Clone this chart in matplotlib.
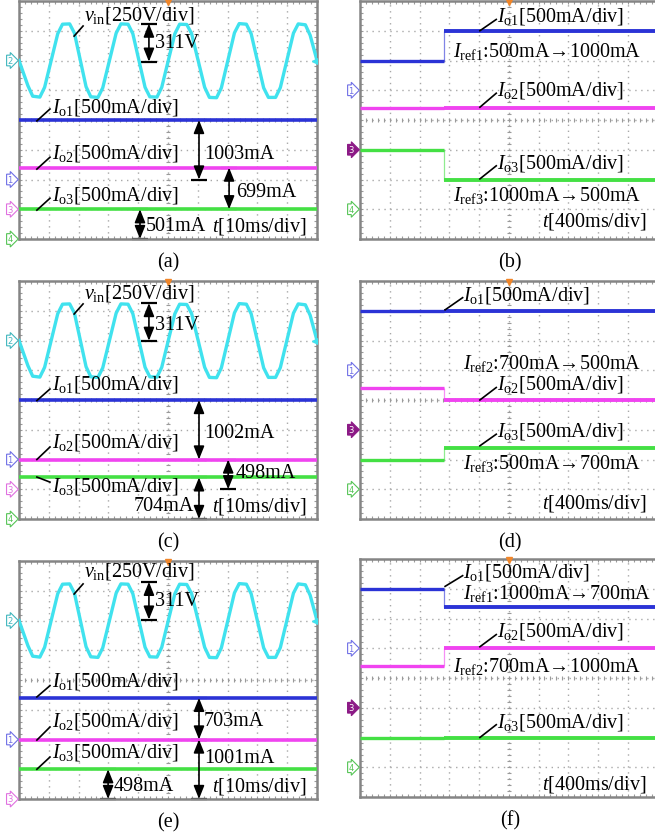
import numpy as np
import matplotlib
matplotlib.use('Agg')
import matplotlib.pyplot as plt

plt.rcParams['font.family'] = ['Liberation Serif', 'DejaVu Serif']
plt.rcParams['mathtext.fontset'] = 'custom'
plt.rcParams['mathtext.rm'] = 'Liberation Serif'
plt.rcParams['mathtext.it'] = 'Liberation Serif:italic'
plt.rcParams['font.size'] = 14.5

W, H = 655., 837.

# ---- data, in scope divisions (x: 0..10, y: 0..8) ----
# input voltage trace (same in a, c, e)
vin_t = [0.0, 0.30, 0.46, 0.70, 0.86, 1.30, 1.46, 1.70, 1.86,
         2.25, 2.41, 2.65, 2.81, 3.26, 3.42, 3.66, 3.82,
         4.23, 4.39, 4.63, 4.79, 5.23, 5.39, 5.63, 5.79,
         6.23, 6.39, 6.63, 6.79, 7.23, 7.39, 7.63, 7.79,
         8.21, 8.37, 8.61, 8.77, 9.21, 9.37, 9.61, 9.77, 10.0]
vin_v = [6.0, 5.15, 4.80, 4.77, 5.10, 6.90, 7.22, 7.23, 6.92,
         5.12, 4.78, 4.76, 5.08, 6.92, 7.23, 7.22, 6.90,
         5.10, 4.78, 4.77, 5.10, 6.90, 7.22, 7.21, 6.91,
         5.10, 4.76, 4.75, 5.08, 6.93, 7.24, 7.22, 6.90,
         5.08, 4.76, 4.76, 5.09, 6.92, 7.23, 7.20, 6.85, 6.0]

# steady state levels Io1, Io2, Io3
lvl_a = [4.0, 2.4, 1.0]
lvl_c = [4.0, 2.0, 1.4]
lvl_e = [3.4, 2.0, 1.0]

# step tests: levels before / after the reference change
t_step = 2.82
before_b = [6.0, 4.4, 3.0]
after_b = [7.0, 4.4, 2.0]
before_d = [7.0, 4.4, 2.0]
after_d = [7.0, 4.0, 2.4]
before_f = [7.0, 4.4, 2.0]
after_f = [6.4, 5.0, 2.0]

# channel ground markers
chan_a = [('2', 6.0), ('1', 2.0), ('3', 1.0), ('4', 0.0)]
chan_c = [('2', 6.0), ('1', 2.0), ('3', 1.0), ('4', 0.0)]
chan_e = [('2', 6.0), ('1', 2.0), ('3', 0.0)]
chan_step = [('1', 5.0), ('3', 3.0), ('4', 1.0)]

# measurement arrows: x, y0, y1, text, text x, text y, ha
meas_a = [(4.36, 7.24, 5.96, '311V', 4.58, 6.62, 'left'),
          (6.04, 4.0, 2.0, '1003mA', 6.20, 2.86, 'left'),
          (7.05, 2.4, 1.0, '699mA', 7.28, 1.61, 'left'),
          (4.06, 1.0, 0.0, '501mA', 4.26, 0.44, 'left')]
meas_c = [(4.36, 7.26, 5.99, '311V', 4.58, 6.55, 'left'),
          (6.04, 4.0, 2.0, '1002mA', 6.20, 2.92, 'left'),
          (7.02, 2.0, 1.0, '498mA', 7.26, 1.55, 'left'),
          (6.04, 1.4, 0.0, '704mA', 5.86, 0.44, 'right')]
meas_e = [(4.36, 7.30, 6.03, '311V', 4.58, 6.66, 'left'),
          (6.04, 3.4, 2.0, '703mA', 6.20, 2.63, 'left'),
          (6.04, 2.0, 0.0, '1001mA', 6.20, 1.41, 'left'),
          (2.99, 1.0, 0.0, '498mA', 3.18, 0.45, 'left')]

lab_vin = r'$v_{\rm in}$[250V/div]'
lab_io = [r'$I_{\rm o1}$[500mA/div]', r'$I_{\rm o2}$[500mA/div]',
          r'$I_{\rm o3}$[500mA/div]']

# label positions: text x, text y, leader (x0, y0, x1, y1)
txt_a = [(2.18, 7.56, (1.85, 6.82, 2.15, 7.16)),
         (1.11, 4.47, (0.6, 3.97, 1.04, 4.37)),
         (1.11, 2.92, (0.6, 2.35, 1.04, 2.75)),
         (1.11, 1.51, (0.6, 0.97, 1.04, 1.37))]
txt_c = [(2.18, 7.63, (1.85, 6.89, 2.15, 7.23)),
         (1.11, 4.54, (0.6, 3.98, 1.04, 4.37)),
         (1.11, 2.59, (0.6, 2.0, 1.04, 2.42)),
         (1.11, 1.12, (0.6, 1.41, 1.04, 1.24))]
txt_e = [(2.18, 7.67, (1.85, 6.89, 2.15, 7.23)),
         (1.11, 3.98, (0.6, 3.43, 1.04, 3.81)),
         (1.11, 2.63, (0.6, 1.98, 1.04, 2.42)),
         (1.11, 1.58, (0.6, 1.0, 1.04, 1.41))]
txt_b = [(4.60, 7.52, (4.03, 7.0, 4.58, 7.38)),
         (4.60, 5.04, (4.03, 4.43, 4.58, 4.90)),
         (4.60, 2.58, (4.03, 2.02, 4.58, 2.46))]
txt_d = [(3.47, 7.56, (2.86, 7.03, 3.45, 7.44)),
         (4.60, 4.54, (4.03, 4.0, 4.58, 4.42)),
         (4.60, 2.97, (4.03, 2.46, 4.58, 2.85))]
txt_f = [(3.47, 7.58, (2.86, 7.08, 3.45, 7.44)),
         (4.60, 5.59, (4.03, 5.05, 4.58, 5.46)),
         (4.60, 2.55, (4.03, 2.0, 4.58, 2.43))]

ref_b = [(r'$I_{\rm ref1}$:500mA→1000mA', 3.14, 6.33),
         (r'$I_{\rm ref3}$:1000mA→500mA', 3.14, 1.51)]
ref_d = [(r'$I_{\rm ref2}$:700mA→500mA', 3.47, 5.27),
         (r'$I_{\rm ref3}$:500mA→700mA', 3.47, 1.90)]
ref_f = [(r'$I_{\rm ref1}$:1000mA→700mA', 3.47, 6.88),
         (r'$I_{\rm ref2}$:700mA→1000mA', 3.14, 4.41)]

C_VIN = '#40e2ee'
C_IO = ['#2b33d6', '#f044f0', '#44e044']
C_CH = {'1': '#6f6fe6', '2': '#3fb6bd', '3': '#e070e0', '4': '#55c455'}
C_CH3_FILLED = '#8c1a86'
C_GRID = '#a8a8a8'


def scope(l, t, r, b):
    ax = fig.add_axes([l / W, 1 - b / H, (r - l) / W, (b - t) / H])
    ax.set_xlim(0, 10)
    ax.set_ylim(0, 8)
    ax.set_xticks([])
    ax.set_yticks([])
    for s in ax.spines.values():
        s.set_color('#858585')
        s.set_linewidth(1.8)
    for x in range(1, 10):
        ax.axvline(x, color=C_GRID, lw=1.0, ls=(0, (1, 3.3)), zorder=0)
    for y in range(1, 8):
        ax.axhline(y, color=C_GRID, lw=1.0, ls=(0, (1, 3.3)), zorder=0)
    mx = np.arange(0, 10.01, 0.2)
    my = np.arange(0, 8.01, 0.2)
    kw = dict(color='#9a9a9a', lw=0.8, zorder=0)
    ax.vlines(mx, 4 - 0.07, 4 + 0.07, **kw)
    ax.hlines(my, 5 - 0.07, 5 + 0.07, **kw)
    ax.vlines(mx, 0, 0.1, **kw)
    ax.vlines(mx, 7.9, 8, **kw)
    ax.hlines(my, 0, 0.1, **kw)
    ax.hlines(my, 9.9, 10, **kw)
    ax.plot(5, 7.97, marker='v', color='#f0862a', ms=5, clip_on=False, zorder=5)
    return ax


def channels(ax, marks, filled3=False):
    for lab, y in marks:
        col = C_CH[lab]
        fc = 'white'
        tc = col
        if lab == '3' and filled3:
            col = C_CH3_FILLED
            fc = col
            tc = 'white'
        ax.text(-0.3, y, lab, ha='center', va='center', fontsize=6, color=tc,
                family='DejaVu Sans', clip_on=False,
                bbox=dict(boxstyle='rarrow,pad=0.1', fc=fc, ec=col, lw=0.8))


def measure(ax, items):
    for x, y0, y1, s, tx, ty, ha in items:
        ax.annotate('', xy=(x, y1), xytext=(x, y0), annotation_clip=False,
                    arrowprops=dict(arrowstyle='<|-|>,head_length=0.8,head_width=0.32',
                                    color='k', lw=1.2, shrinkA=0, shrinkB=0,
                                    mutation_scale=10))
        ax.hlines([y0, y1], x - 0.27, x + 0.27, color='k', lw=1.6, clip_on=False)
        ax.text(tx, ty, s, ha=ha, va='center', zorder=6)


def labels(ax, items, strs):
    for (tx, ty, ld), s in zip(items, strs):
        ax.plot([ld[0], ld[2]], [ld[1], ld[3]], color='k', lw=1.2, zorder=6)
        ax.text(tx, ty, s, ha='left', va='center', zorder=6)


fig = plt.figure(figsize=(6.55, 8.37), dpi=100)

# ---- left column: 10 ms/div ----
for box, lvl, ch, meas, txt, cap in [((19, 2, 317, 240), lvl_a, chan_a, meas_a, txt_a, '(a)'),
                                     ((19, 282, 317, 520), lvl_c, chan_c, meas_c, txt_c, '(c)'),
                                     ((19, 562, 317, 800), lvl_e, chan_e, meas_e, txt_e, '(e)')]:
    ax = scope(*box)
    ax.plot(vin_t, vin_v, color=C_VIN, lw=2.4, zorder=3)
    ax.plot(9.93, 6.0, marker='<', color=C_VIN, ms=4, zorder=4)
    for y, c in zip(lvl, C_IO):
        ax.axhline(y, color=c, lw=2.6, zorder=3)
    channels(ax, ch)
    measure(ax, meas)
    labels(ax, txt, [lab_vin] + lab_io)
    ax.text(6.49, meas[-1][5], r'$t$[10ms/div]', ha='left', va='center', zorder=6)
    fig.text(168 / W, 1 - (box[3] + 23) / H, cap, ha='center', va='center')

# ---- right column: 400 ms/div ----
for box, bef, aft, txt, refs, cap, ty in [((360, 2, 657.5, 240), before_b, after_b, txt_b, ref_b, '(b)', 0.62),
                                          ((360, 282, 657.5, 520), before_d, after_d, txt_d, ref_d, '(d)', 0.56),
                                          ((360, 560, 657.5, 798), before_f, after_f, txt_f, ref_f, '(f)', 0.44)]:
    ax = scope(*box)
    for y0, y1, c in zip(bef, aft, C_IO):
        ax.hlines(y0, 0, t_step, color=c, lw=2.4, zorder=3)
        ax.hlines(y1, t_step, 10, color=c, lw=2.8, zorder=3)
        ax.vlines(t_step, y0, y1, color=c, lw=0.9, alpha=0.6, zorder=3)
    channels(ax, chan_step, filled3=True)
    labels(ax, txt, lab_io)
    for s, x, y in refs:
        ax.text(x, y, s, ha='left', va='center', zorder=6)
    ax.text(6.12, ty, r'$t$[400ms/div]', ha='left', va='center', zorder=6)
    fig.text(510 / W, 1 - (box[3] + 23) / H, cap, ha='center', va='center')

fig.savefig('out.png', dpi=100)
